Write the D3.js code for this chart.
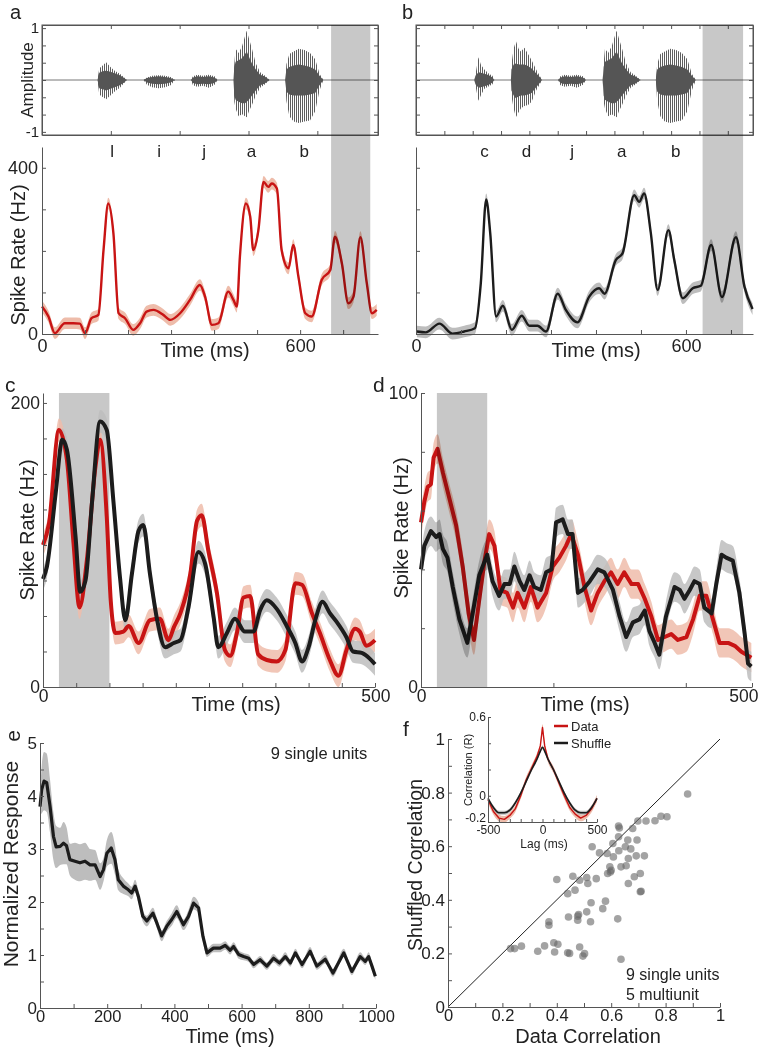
<!DOCTYPE html>
<html>
<head>
<meta charset="utf-8">
<script src="https://cdn.jsdelivr.net/npm/d3@7"></script>
<style>
	body { margin: 0; background: #fff; }
	svg { display: block; font-family: "Liberation Sans", Arial, sans-serif; }
</style>
</head>
<body>
<svg id="fig" width="762" height="1051"></svg>
<script>

// DATA

// syllable envelopes: [ms from onset, outer up, outer down, body up, body down]
const sylL = [[0,0,0,0,0],[4,.22,-.28,.14,-.16],[12,.28,-.33,.17,-.18],[20,.34,-.37,.18,-.2],[30,.25,-.3,.16,-.17],[40,.18,-.22,.13,-.14],[52,.12,-.15,.09,-.1],[62,.05,-.06,.04,-.05],[68,0,0,0,0]];
const sylI = [[0,0,0,0,0],[8,.05,-.09,.04,-.05],[20,.08,-.14,.06,-.07],[35,.09,-.16,.07,-.08],[50,.08,-.14,.06,-.07],[63,.06,-.1,.04,-.05],[73,0,0,0,0]];
const sylJ = [[0,0,0,0,0],[5,.07,-.1,.05,-.06],[15,.1,-.13,.07,-.08],[28,.08,-.11,.06,-.07],[42,.1,-.15,.07,-.08],[55,.07,-.09,.05,-.06],[62,0,0,0,0]];
const sylA = [[0,0,0,0,0],[2,.32,-.42,.25,-.3],[5,.6,-.55,.35,-.38],[12,.52,-.7,.38,-.42],[20,.65,-.66,.42,-.45],[27,.85,-.7,.5,-.45],[31,.95,-.72,.55,-.42],[36,.8,-.6,.45,-.38],[43,.6,-.48,.32,-.3],[52,.32,-.3,.2,-.2],[62,.15,-.15,.1,-.1],[72,.09,-.09,.07,-.07],[84,0,0,0,0]];
const sylB = [[0,0,0,0,0],[3,.3,-.4,.2,-.22],[10,.5,-.7,.25,-.28],[20,.55,-.8,.28,-.3],[32,.6,-.83,.3,-.3],[45,.58,-.8,.28,-.3],[58,.52,-.78,.25,-.28],[70,.4,-.6,.2,-.25],[80,.12,-.2,.08,-.1],[89,0,0,0,0]];
const sylC = [[0,0,0,0,0],[2,.1,-.1,.08,-.08],[6,.3,-.28,.12,-.12],[9,.44,-.4,.15,-.15],[14,.3,-.3,.14,-.14],[22,.2,-.17,.12,-.12],[32,.12,-.12,.09,-.09],[40,.08,-.08,.05,-.05],[44,0,0,0,0]];
const sylD = [[0,0,0,0,0],[1,.3,-.3,.2,-.2],[6,.6,-.55,.3,-.3],[11,.75,-.72,.32,-.35],[17,.6,-.62,.3,-.32],[22,.55,-.55,.3,-.3],[30,.62,-.5,.3,-.3],[38,.5,-.48,.27,-.28],[46,.38,-.42,.22,-.25],[56,.2,-.2,.13,-.14],[64,.08,-.08,.06,-.06],[69,0,0,0,0]];

// sequences: [label, shape, onset ms]
const soundA = [['l', sylL, 129], ['i', sylI, 236], ['j', sylJ, 346], ['a', sylA, 445], ['b', sylB, 565]];
const soundB = [['c', sylC, 130], ['d', sylD, 211], ['j', sylJ, 316], ['a', sylA, 415], ['b', sylB, 533]];

const waveYTicks = [-1, -2/3, -1/3, 0, 1/3, 2/3, 1];
const waveTicksA = [160, 320, 480, 640];
const waveTicksB = [63, 126, 189, 252, 315, 378, 441, 504, 567, 630, 693];
const rateTicks = [0, 100, 200, 300, 400];
const timeTicksAB = [0, 100, 200, 300, 400, 500, 600, 700];

const stimA = [672, 763];
const stimB = [637, 727];
const stimCD = [24, 100];

// [ms, Hz]
const rateA = [[0,66],[15,42],[30,2],[53,26],[73,26],[88,25],[100,2],[115,38],[131,46],[143,202],[154,314],[166,242],[178,50],[193,38],[212,10],[228,26],[243,54],[259,58],[282,46],[298,34],[321,50],[344,82],[367,118],[379,90],[395,22],[410,26],[433,102],[445,82],[453,66],[460,186],[474,314],[484,282],[491,202],[503,250],[515,366],[526,354],[534,362],[546,350],[557,202],[573,158],[584,214],[596,138],[612,50],[627,42],[650,130],[670,154],[681,234],[697,170],[712,74],[724,90],[740,233],[755,122],[767,50],[778,58]];
const rateB = [[2,6],[22,4],[52,25],[81,1],[107,6],[131,14],[144,122],[156,324],[165,242],[178,42],[193,68],[213,10],[235,44],[252,20],[270,20],[289,6],[315,97],[333,58],[359,28],[385,90],[407,110],[419,97],[444,178],[459,194],[485,334],[496,318],[507,338],[522,242],[537,106],[561,250],[574,178],[593,86],[615,110],[633,116],[656,214],[680,89],[711,233],[730,114],[748,60]];
const semA = 14, semB = 14;

const dataC = [[0,100],[9,115],[24,181],[36,160],[46,101],[55,56],[66,89],[79,155],[86,174],[96,120],[102,61],[109,38],[121,39],[129,43],[144,31],[161,47],[176,48],[189,33],[197,42],[207,52],[222,80],[232,117],[239,121],[249,96],[262,66],[274,26],[282,22],[292,38],[302,63],[312,64],[324,23],[337,19],[352,18],[365,26],[380,73],[390,72],[405,52],[417,38],[432,19],[445,8],[457,26],[470,41],[477,39],[487,29],[500,33]];
const shuffleC = [[0,76],[6,85],[19,136],[29,174],[36,167],[49,106],[56,67],[64,75],[74,131],[86,187],[96,181],[106,131],[116,77],[124,47],[134,80],[144,110],[151,114],[161,80],[172,47],[184,28],[197,31],[207,33],[219,56],[234,95],[244,87],[257,49],[264,28],[277,38],[289,48],[304,39],[317,39],[327,54],[337,61],[352,55],[367,43],[380,31],[390,18],[400,28],[410,47],[421,60],[432,52],[442,46],[457,35],[467,25],[480,24],[492,20],[500,16]];
const semC = 8;

const dataD = [[0,56],[5,63],[10,68],[15,69],[19,78],[25,81],[33,73],[43,64],[53,55],[63,41],[72,25],[80,16],[87,28],[96,43],[103,52],[111,48],[120,33],[130,32],[139,27],[146,32],[156,27],[166,34],[176,27],[189,32],[199,41],[209,44],[219,48],[227,52],[237,45],[247,34],[257,26],[267,32],[277,36],[287,39],[297,35],[307,39],[318,35],[328,35],[338,30],[348,24],[358,16],[368,17],[378,18],[388,16],[401,17],[411,23],[421,31],[431,31],[441,23],[451,15],[464,15],[474,14],[484,12],[499,10]];
const shuffleD = [[0,40],[5,48],[15,53],[23,51],[28,52],[33,47],[40,44],[48,34],[58,23],[70,15],[78,25],[88,38],[100,45],[108,36],[118,31],[126,35],[134,35],[141,41],[149,36],[156,33],[164,38],[171,34],[181,33],[189,39],[197,40],[204,56],[214,57],[222,52],[229,52],[237,32],[244,33],[255,36],[267,40],[277,39],[290,33],[300,24],[310,17],[320,22],[330,23],[338,26],[345,19],[353,15],[360,11],[370,24],[383,34],[391,33],[398,30],[406,33],[413,36],[421,35],[428,27],[439,25],[446,35],[454,45],[461,44],[471,43],[481,32],[489,18],[494,8],[499,7]];
const semD = 5;

// [ms, normalized response, sem]
const popE = [[0,3.8,.15],[5,4.12,.45],[12,4.28,.55],[20,4.25,.55],[30,3.8,.5],[40,3.24,.45],[48,3.04,.4],[60,3.05,.35],[70,3.11,.4],[79,3.06,.35],[89,2.8,.3],[104,2.77,.35],[119,2.74,.35],[134,2.77,.35],[149,2.7,.3],[164,2.7,.28],[179,2.48,.25],[189,2.61,.22],[199,2.92,.25],[212,3.02,.3],[223,2.8,.28],[233,2.42,.2],[248,2.3,.15],[263,2.23,.12],[273,2.17,.12],[283,2.3,.12],[293,2.1,.12],[306,1.73,.1],[318,1.64,.1],[336,1.79,.1],[348,1.6,.1],[362,1.36,.1],[377,1.54,.1],[392,1.67,.12],[407,1.82,.12],[427,1.57,.1],[442,1.73,.12],[457,1.98,.12],[472,1.89,.1],[485,1.35,.1],[497,1.04,.08],[516,1.13,.08],[536,1.13,.08],[551,1.18,.08],[566,1.09,.08],[576,1.16,.08],[591,1.01,.08],[606,.97,.07],[621,.94,.07],[636,.82,.07],[655,.91,.07],[675,.79,.07],[695,.94,.08],[713,.85,.07],[730,.97,.08],[745,.85,.07],[760,1.04,.08],[780,.82,.07],[804,1.07,.08],[824,.79,.07],[849,.92,.08],[872,.66,.07],[904,1.04,.08],[928,.69,.07],[953,.97,.08],[968,.88,.07],[978,.97,.08],[988,.79,.07],[998,.6,.07]];

// [data correlation, shuffled correlation]
const corrF = [[.881,.795],[.805,.71],[.783,.712],[.761,.695],[.728,.694],[.698,.694],[.679,.666],[.627,.675],[.63,.668],[.627,.635],[.606,.61],[.661,.623],[.695,.623],[.652,.598],[.672,.59],[.628,.583],[.608,.56],[.585,.573],[.557,.575],[.53,.598],[.692,.564],[.722,.564],[.663,.554],[.595,.523],[.636,.523],[.655,.527],[.597,.504],[.6,.51],[.587,.498],[.707,.498],[.685,.486],[.663,.461],[.707,.43],[.71,.432],[.459,.488],[.484,.473],[.51,.483],[.514,.461],[.545,.479],[.4,.476],[.44,.423],[.467,.436],[.526,.389],[.579,.395],[.569,.367],[.443,.336],[.477,.339],[.48,.345],[.51,.355],[.524,.318],[.477,.324],[.371,.318],[.371,.305],[.624,.329],[.23,.218],[.245,.218],[.27,.227],[.33,.208],[.355,.228],[.389,.24],[.392,.205],[.404,.234],[.44,.202],[.447,.2],[.484,.224],[.496,.19],[.502,.199],[.636,.178]];

const insetLag = [-500,-450,-400,-350,-300,-250,-200,-150,-100,-50,-20,0,20,50,100,150,200,250,300,350,400,450,500];
const insetData = [-.03,-.12,-.17,-.18,-.15,-.1,0,.12,.21,.3,.38,.52,.38,.28,.2,.1,0,-.09,-.14,-.17,-.15,-.1,-.02];
const insetShuffle = [-.02,-.09,-.13,-.13,-.11,-.055,.02,.11,.2,.28,.34,.37,.34,.28,.2,.11,.02,-.055,-.11,-.13,-.13,-.09,-.02];

// GRAPH

const RED = '#c81414', RED_BAND = '#eebcaa', BLACK = '#1c1c1c', GRAY_BAND = '#bdbdbd', STIM = '#c8c8c8';

const svg = d3.select('#fig');
svg.append('rect').attr('width', 762).attr('height', 1051).attr('fill', '#fff');

svg.append('defs')
	.append('pattern')
	.attr('id', 'stripes')
	.attr('width', 2)
	.attr('height', 4)
	.attr('patternUnits', 'userSpaceOnUse')
	.append('rect')
	.attr('width', 1)
	.attr('height', 4)
	.attr('fill', '#5e5e5e');

const axisStyle = (g, fs) => {
	g.attr('font-family', null).attr('font-size', fs);
	g.select('.domain').attr('stroke', '#555');
	g.selectAll('.tick line').attr('stroke', '#555');
	g.selectAll('.tick text').attr('fill', '#222');
};

const only = keep => d => keep.some(k => Math.abs(k - d) < 1e-9) ? String(d) : '';

const text = (str, x, y, fs, opts = {}) => svg.append('text')
	.attr('x', x)
	.attr('y', y)
	.attr('font-size', fs)
	.attr('fill', '#222')
	.attr('text-anchor', opts.anchor || 'start')
	.attr('transform', opts.rotate ? `rotate(-90, ${x}, ${y})` : null)
	.text(str);

const drawBand = (g, x, y, pts, val, err, color) => g.append('path')
	.datum(pts)
	.attr('fill', color)
	.attr('d', d3.area()
		.x(d => x(d[0]))
		.y0(d => y(val(d) - err(d)))
		.y1(d => y(val(d) + err(d)))
		.curve(d3.curveMonotoneX));

const drawLine = (g, x, y, pts, val, color, width, curve) => g.append('path')
	.datum(pts)
	.attr('fill', 'none')
	.attr('stroke', color)
	.attr('stroke-width', width)
	.attr('stroke-linejoin', 'round')
	.attr('d', d3.line()
		.x(d => x(d[0]))
		.y(d => y(val(d)))
		.curve(curve));

// a / b : waveform + rate

const yWave = d3.scaleLinear().domain([-1.06, 1.06]).range([135, 25]);
const yRate = d3.scaleLinear().domain([0, 450]).range([334, 147]);

const soundPanel = o => {

	const g = svg.append('g'),
				[x0, x1] = o.x.range();

	g.append('line')
		.attr('x1', x0).attr('x2', x1)
		.attr('y1', yWave(0)).attr('y2', yWave(0))
		.attr('stroke', '#777');

	for (const [name, shape, onset] of o.seq) {

		g.append('path')
			.datum(shape)
			.attr('fill', 'url(#stripes)')
			.attr('d', d3.area().x(d => o.x(onset + d[0])).y0(d => yWave(d[2])).y1(d => yWave(d[1])));

		g.append('path')
			.datum(shape)
			.attr('fill', '#555')
			.attr('d', d3.area().x(d => o.x(onset + d[0])).y0(d => yWave(d[4])).y1(d => yWave(d[3])));

		text(name, o.x(onset + shape[shape.length - 1][0] / 2), 157, 17, { anchor: 'middle' });

	}

	g.append('rect')
		.attr('x', x0).attr('y', 25)
		.attr('width', x1 - x0).attr('height', 110)
		.attr('fill', 'none')
		.attr('stroke', '#555');

	g.append('g').attr('transform', 'translate(0,135)')
		.call(d3.axisBottom(o.x).tickValues(o.waveTicks).tickSize(-4).tickSizeOuter(0).tickFormat(''))
		.call(axisStyle, 15);
	g.append('g').attr('transform', 'translate(0,25)')
		.call(d3.axisTop(o.x).tickValues(o.waveTicks).tickSize(-4).tickSizeOuter(0).tickFormat(''))
		.call(axisStyle, 15);
	g.append('g').attr('transform', `translate(${x0},0)`)
		.call(d3.axisLeft(yWave).tickValues(waveYTicks).tickSize(-4).tickSizeOuter(0).tickPadding(3)
			.tickFormat(o.labels ? only([-1, 1]) : ''))
		.call(axisStyle, 15);
	g.append('g').attr('transform', `translate(${x1},0)`)
		.call(d3.axisRight(yWave).tickValues(waveYTicks).tickSize(-4).tickSizeOuter(0).tickFormat(''))
		.call(axisStyle, 15);

	drawBand(g, o.x, yRate, o.rate, d => d[1], () => o.sem, o.bandColor);
	drawLine(g, o.x, yRate, o.rate, d => d[1], o.lineColor, 2.4, d3.curveMonotoneX);

	g.append('g').attr('transform', `translate(${x0},0)`)
		.call(d3.axisLeft(yRate).tickValues(rateTicks).tickSize(-4).tickSizeOuter(0).tickPadding(4)
			.tickFormat(o.labels ? only([0, 400]) : ''))
		.call(axisStyle, 18);
	g.append('g').attr('transform', 'translate(0,334)')
		.call(d3.axisBottom(o.x).tickValues(timeTicksAB).tickSize(-4).tickSizeOuter(0).tickPadding(5)
			.tickFormat(only([0, 600])))
		.call(axisStyle, 18);

	g.append('rect')
		.attr('x', o.x(o.stim[0])).attr('y', 25)
		.attr('width', o.x(o.stim[1]) - o.x(o.stim[0]))
		.attr('height', 334 - 25)
		.attr('fill', STIM)
		.style('mix-blend-mode', 'multiply');

	text('Time (ms)', o.timeX, 357, 20, { anchor: 'middle' });

};

soundPanel({
	x: d3.scaleLinear().domain([0, 781]).range([42, 378]),
	seq: soundA, waveTicks: waveTicksA, rate: rateA, sem: semA,
	lineColor: RED, bandColor: RED_BAND, stim: stimA, labels: true, timeX: 205
});

soundPanel({
	x: d3.scaleLinear().domain([0, 749]).range([416, 753]),
	seq: soundB, waveTicks: waveTicksB, rate: rateB, sem: semB,
	lineColor: BLACK, bandColor: GRAY_BAND, stim: stimB, labels: false, timeX: 596
});

text('Amplitude', 33, 80, 17, { anchor: 'middle', rotate: true });
text('Spike Rate (Hz)', 25, 255, 20, { anchor: 'middle', rotate: true });
text('a', 10, 19, 20);
text('b', 402, 19, 20);

// c / d : data vs shuffle

const pairPanel = o => {

	const g = svg.append('g');

	const stim = g.append('rect')
		.attr('x', o.x(stimCD[0])).attr('y', o.y.range()[1])
		.attr('width', o.x(stimCD[1]) - o.x(stimCD[0]))
		.attr('height', o.y.range()[0] - o.y.range()[1])
		.attr('fill', STIM);

	drawBand(g, o.x, o.y, o.data, d => d[1], () => o.sem, RED_BAND).attr('opacity', 0.85);
	drawBand(g, o.x, o.y, o.shuffle, d => d[1], () => o.sem, GRAY_BAND).attr('opacity', 0.85);
	drawLine(g, o.x, o.y, o.data, d => d[1], RED, 4, o.curve);
	drawLine(g, o.x, o.y, o.shuffle, d => d[1], BLACK, 4, o.curve);

	if (o.overlay) stim.raise().style('mix-blend-mode', 'multiply');

	g.append('g').attr('transform', `translate(${o.x.range()[0]},0)`)
		.call(d3.axisLeft(o.y).tickValues(o.yTicks).tickSize(-4).tickSizeOuter(0).tickPadding(3)
			.tickFormat(only(o.yLabels)))
		.call(axisStyle, 17.5);

	const xAxis = g.append('g').attr('transform', `translate(0,${o.y.range()[0]})`)
		.call(d3.axisBottom(o.x).tickValues(o.xTicks).tickSize(-4).tickSizeOuter(0).tickPadding(3)
			.tickFormat(only([0, 500])))
		.call(axisStyle, 17.5);

	// last label kept inside the page, as in the figure
	xAxis.selectAll('.tick text')
		.filter(d => d === 500)
		.attr('text-anchor', 'end')
		.attr('dx', o.endShift);

};

pairPanel({
	x: d3.scaleLinear().domain([0, 500]).range([43, 375]),
	y: d3.scaleLinear().domain([0, 207]).range([687, 393]),
	data: dataC, shuffle: shuffleC, sem: semC, curve: d3.curveMonotoneX,
	yTicks: d3.range(0, 201, 25), yLabels: [0, 200], xTicks: d3.range(0, 501, 50), overlay: false, endShift: 15
});

pairPanel({
	x: d3.scaleLinear().domain([0, 500]).range([421, 752]),
	y: d3.scaleLinear().domain([0, 100]).range([687, 393]),
	data: dataD, shuffle: shuffleD, sem: semD, curve: d3.curveLinear,
	yTicks: [0, 20, 40, 60, 80, 100], yLabels: [0, 100], xTicks: [0, 200, 400, 500], overlay: true, endShift: 6
});

text('c', 5, 392, 21);
text('d', 373, 392, 21);
text('Spike Rate (Hz)', 34, 530, 20, { anchor: 'middle', rotate: true });
text('Spike Rate (Hz)', 408, 528, 20, { anchor: 'middle', rotate: true });
text('Time (ms)', 236, 711, 20, { anchor: 'middle' });
text('Time (ms)', 585, 711, 20, { anchor: 'middle' });

// e : population response

const xE = d3.scaleLinear().domain([0, 1000]).range([40, 376]),
			yE = d3.scaleLinear().domain([0, 5]).range([1008, 743]);

const gE = svg.append('g');

drawBand(gE, xE, yE, popE, d => d[1], d => d[2], GRAY_BAND);
drawLine(gE, xE, yE, popE, d => d[1], BLACK, 3.2, d3.curveLinear);

gE.append('g').attr('transform', 'translate(40,0)')
	.call(d3.axisLeft(yE).tickValues(d3.range(0, 11).map(i => i / 2)).tickSize(-4).tickSizeOuter(0).tickPadding(3)
		.tickFormat(only([0, 1, 2, 3, 4, 5])))
	.call(axisStyle, 17);
gE.append('g').attr('transform', 'translate(0,1008)')
	.call(d3.axisBottom(xE).tickValues(d3.range(0, 1001, 100)).tickSize(-4).tickSizeOuter(0).tickPadding(2)
		.tickFormat(only([0, 200, 400, 600, 800, 1000])))
	.call(axisStyle, 16.5);

text('e', 20, 736, 21, { anchor: 'middle', rotate: true });
text('Normalized Response', 18, 864, 21, { anchor: 'middle', rotate: true });
text('Time (ms)', 230, 1043, 20, { anchor: 'middle' });
text('9 single units', 319, 759, 16.5, { anchor: 'middle' });

// f : data vs shuffled correlation

const xF = d3.scaleLinear().domain([0, 1]).range([448, 720]),
			yF = d3.scaleLinear().domain([0, 1]).range([1007, 739]);

const gF = svg.append('g');

gF.append('line')
	.attr('x1', xF(0)).attr('y1', yF(0))
	.attr('x2', xF(1)).attr('y2', yF(1))
	.attr('stroke', '#222')
	.attr('stroke-width', 1);

gF.selectAll('circle')
	.data(corrF)
	.join('circle')
	.attr('cx', d => xF(d[0]))
	.attr('cy', d => yF(d[1]))
	.attr('r', 3.8)
	.attr('fill', '#666')
	.attr('opacity', 0.6);

const tenths = d3.range(0, 11).map(i => i / 10);

gF.append('g').attr('transform', 'translate(448,0)')
	.call(d3.axisLeft(yF).tickValues(tenths).tickSize(-4).tickSizeOuter(0).tickPadding(3)
		.tickFormat(only([0, .2, .4, .6, .8, 1])))
	.call(axisStyle, 17);
gF.append('g').attr('transform', 'translate(0,1007)')
	.call(d3.axisBottom(xF).tickValues(tenths).tickSize(-4).tickSizeOuter(0).tickPadding(2)
		.tickFormat(only([0, .2, .4, .6, .8, 1])))
	.call(axisStyle, 16.5);

text('f', 403, 736, 21);
text('Shuffled Correlation', 422, 865, 19.5, { anchor: 'middle', rotate: true });
text('Data Correlation', 588, 1043, 20, { anchor: 'middle' });
text('9 single units', 626, 980, 16);
text('5 multiunit', 626, 1000, 16);

// inset : cross-correlation

const xI = d3.scaleLinear().domain([-500, 500]).range([488, 597]),
			yI = d3.scaleLinear().domain([-0.2, 0.6]).range([822, 717]);

const gI = svg.append('g');
const lagData = insetLag.map((l, i) => [l, insetData[i]]),
			lagShuffle = insetLag.map((l, i) => [l, insetShuffle[i]]);

drawBand(gI, xI, yI, lagData, d => d[1], () => 0.025, RED_BAND);
drawBand(gI, xI, yI, lagShuffle, d => d[1], () => 0.015, GRAY_BAND);
drawLine(gI, xI, yI, lagData, d => d[1], RED, 1.4, d3.curveLinear);
drawLine(gI, xI, yI, lagShuffle, d => d[1], BLACK, 1.6, d3.curveMonotoneX);

const insetY = gI.append('g').attr('transform', 'translate(488,0)')
	.call(d3.axisLeft(yI).tickValues([-0.2, 0, 0.2, 0.4, 0.6]).tickSize(-3).tickSizeOuter(0).tickPadding(2)
		.tickFormat(only([-0.2, 0, 0.6])))
	.call(axisStyle, 12);
insetY.selectAll('.tick text').filter(d => d === -0.2).attr('dy', '-0.05em');

gI.append('g').attr('transform', 'translate(0,822)')
	.call(d3.axisBottom(xI).tickValues(d3.range(-500, 501, 100)).tickSize(-3).tickSizeOuter(0).tickPadding(3)
		.tickFormat(only([-500, 0, 500])))
	.call(axisStyle, 12);

text('Correlation (R)', 472, 770, 11, { anchor: 'middle', rotate: true });
text('Lag (ms)', 544, 848, 12, { anchor: 'middle' });

gI.append('line').attr('x1', 554).attr('x2', 568).attr('y1', 726).attr('y2', 726).attr('stroke', RED).attr('stroke-width', 2.5);
gI.append('line').attr('x1', 554).attr('x2', 568).attr('y1', 743).attr('y2', 743).attr('stroke', BLACK).attr('stroke-width', 2.5);
text('Data', 571, 731, 13);
text('Shuffle', 571, 748, 13);

</script>
</body>
</html>
